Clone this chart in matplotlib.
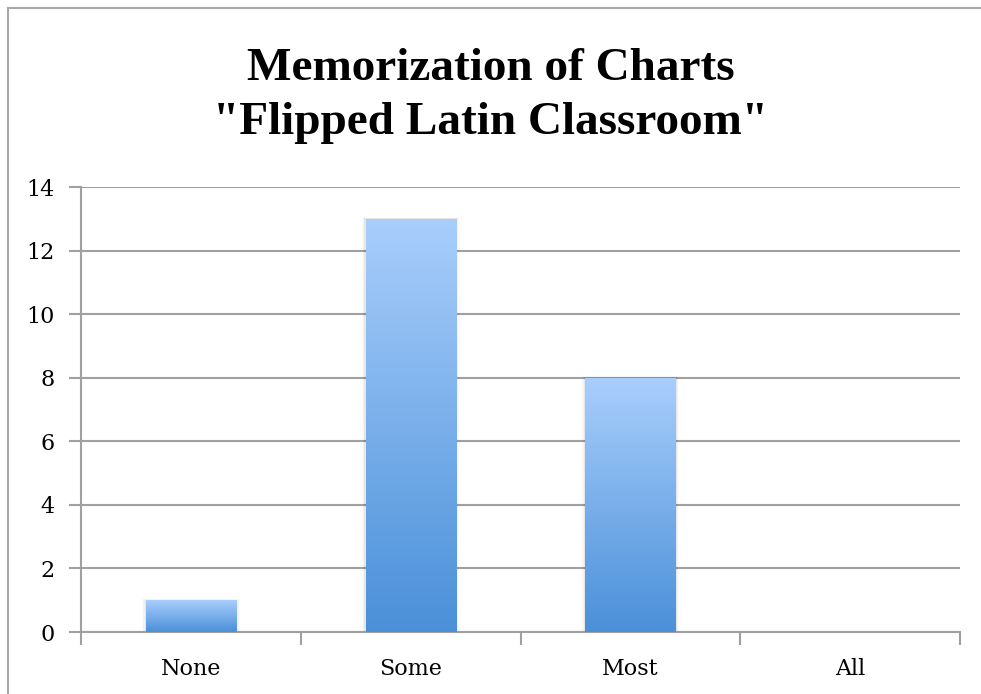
import numpy as np
import matplotlib.pyplot as plt
from matplotlib.colors import LinearSegmentedColormap
from matplotlib.lines import Line2D

categories = ["None", "Some", "Most", "All"]
counts = [1, 13, 8, 0]
y_ticks = [0, 2, 4, 6, 8, 10, 12, 14]
title_text = 'Memorization of Charts\n"Flipped Latin Classroom"'

GRID = "#a0a0a0"
grad = LinearSegmentedColormap.from_list("bar", ["#4a90d9", "#a9cefc"])

fig = plt.figure(figsize=(9.81, 6.94), dpi=100)
ax = fig.add_axes([0.0826, 0.0893, 0.8960, 0.6412])

x = np.arange(len(categories))
bars = ax.bar(x, counts, width=0.41, color="none", zorder=3)

# vertical gradient inside each bar, plus a faint shadow
for b in bars:
    h = b.get_height()
    if h <= 0:
        continue
    x0, w = b.get_x(), b.get_width()
    for k, a in enumerate([0.05, 0.03, 0.015]):
        d = 0.006 * (k + 1)
        ax.add_patch(plt.Rectangle((x0 - d, 0), w + 2 * d, h + d * 3,
                                   color="black", alpha=a, lw=0, zorder=2))
    img = np.linspace(0, 1, 256).reshape(-1, 1)
    im = ax.imshow(img, cmap=grad, origin="lower", aspect="auto",
                   extent=[x0, x0 + w, 0, h], zorder=3)
    im.set_clip_path(b)

ax.set_xlim(-0.5, len(categories) - 0.5)
ax.set_ylim(0, 14)
ax.set_yticks(y_ticks)
ax.set_yticklabels([str(t) for t in y_ticks])
ax.set_xticks(x)
ax.set_xticklabels(categories)
ax.set_xticks(np.arange(-0.5, len(categories)), minor=True)

ax.yaxis.grid(True, color=GRID, lw=1.5, zorder=1)
ax.set_axisbelow(True)
for s in ["top", "right"]:
    ax.spines[s].set_visible(False)
for s in ["left", "bottom"]:
    ax.spines[s].set_color(GRID)
    ax.spines[s].set_linewidth(1.5)

ax.tick_params(axis="y", length=9, width=1.5, color=GRID, pad=10,
               labelsize=16)
ax.tick_params(axis="x", which="major", length=0, pad=19, labelsize=16)
ax.tick_params(axis="x", which="minor", length=9, width=1.5, color=GRID)
for lab in ax.get_xticklabels() + ax.get_yticklabels():
    lab.set_fontfamily("DejaVu Serif")

fig.text(0.5, 0.862, title_text, ha="center", va="center",
         fontsize=34, fontweight="bold", family="Liberation Serif",
         linespacing=1.38)

# outer chart frame (left and top edges visible)
fig.add_artist(Line2D([0.0085, 0.0085], [0, 0.989], color="#a8a8a8",
                      lw=1.5, transform=fig.transFigure))
fig.add_artist(Line2D([0.0085, 1], [0.989, 0.989], color="#a8a8a8",
                      lw=1.5, transform=fig.transFigure))

fig.savefig("out.png", dpi=100)
